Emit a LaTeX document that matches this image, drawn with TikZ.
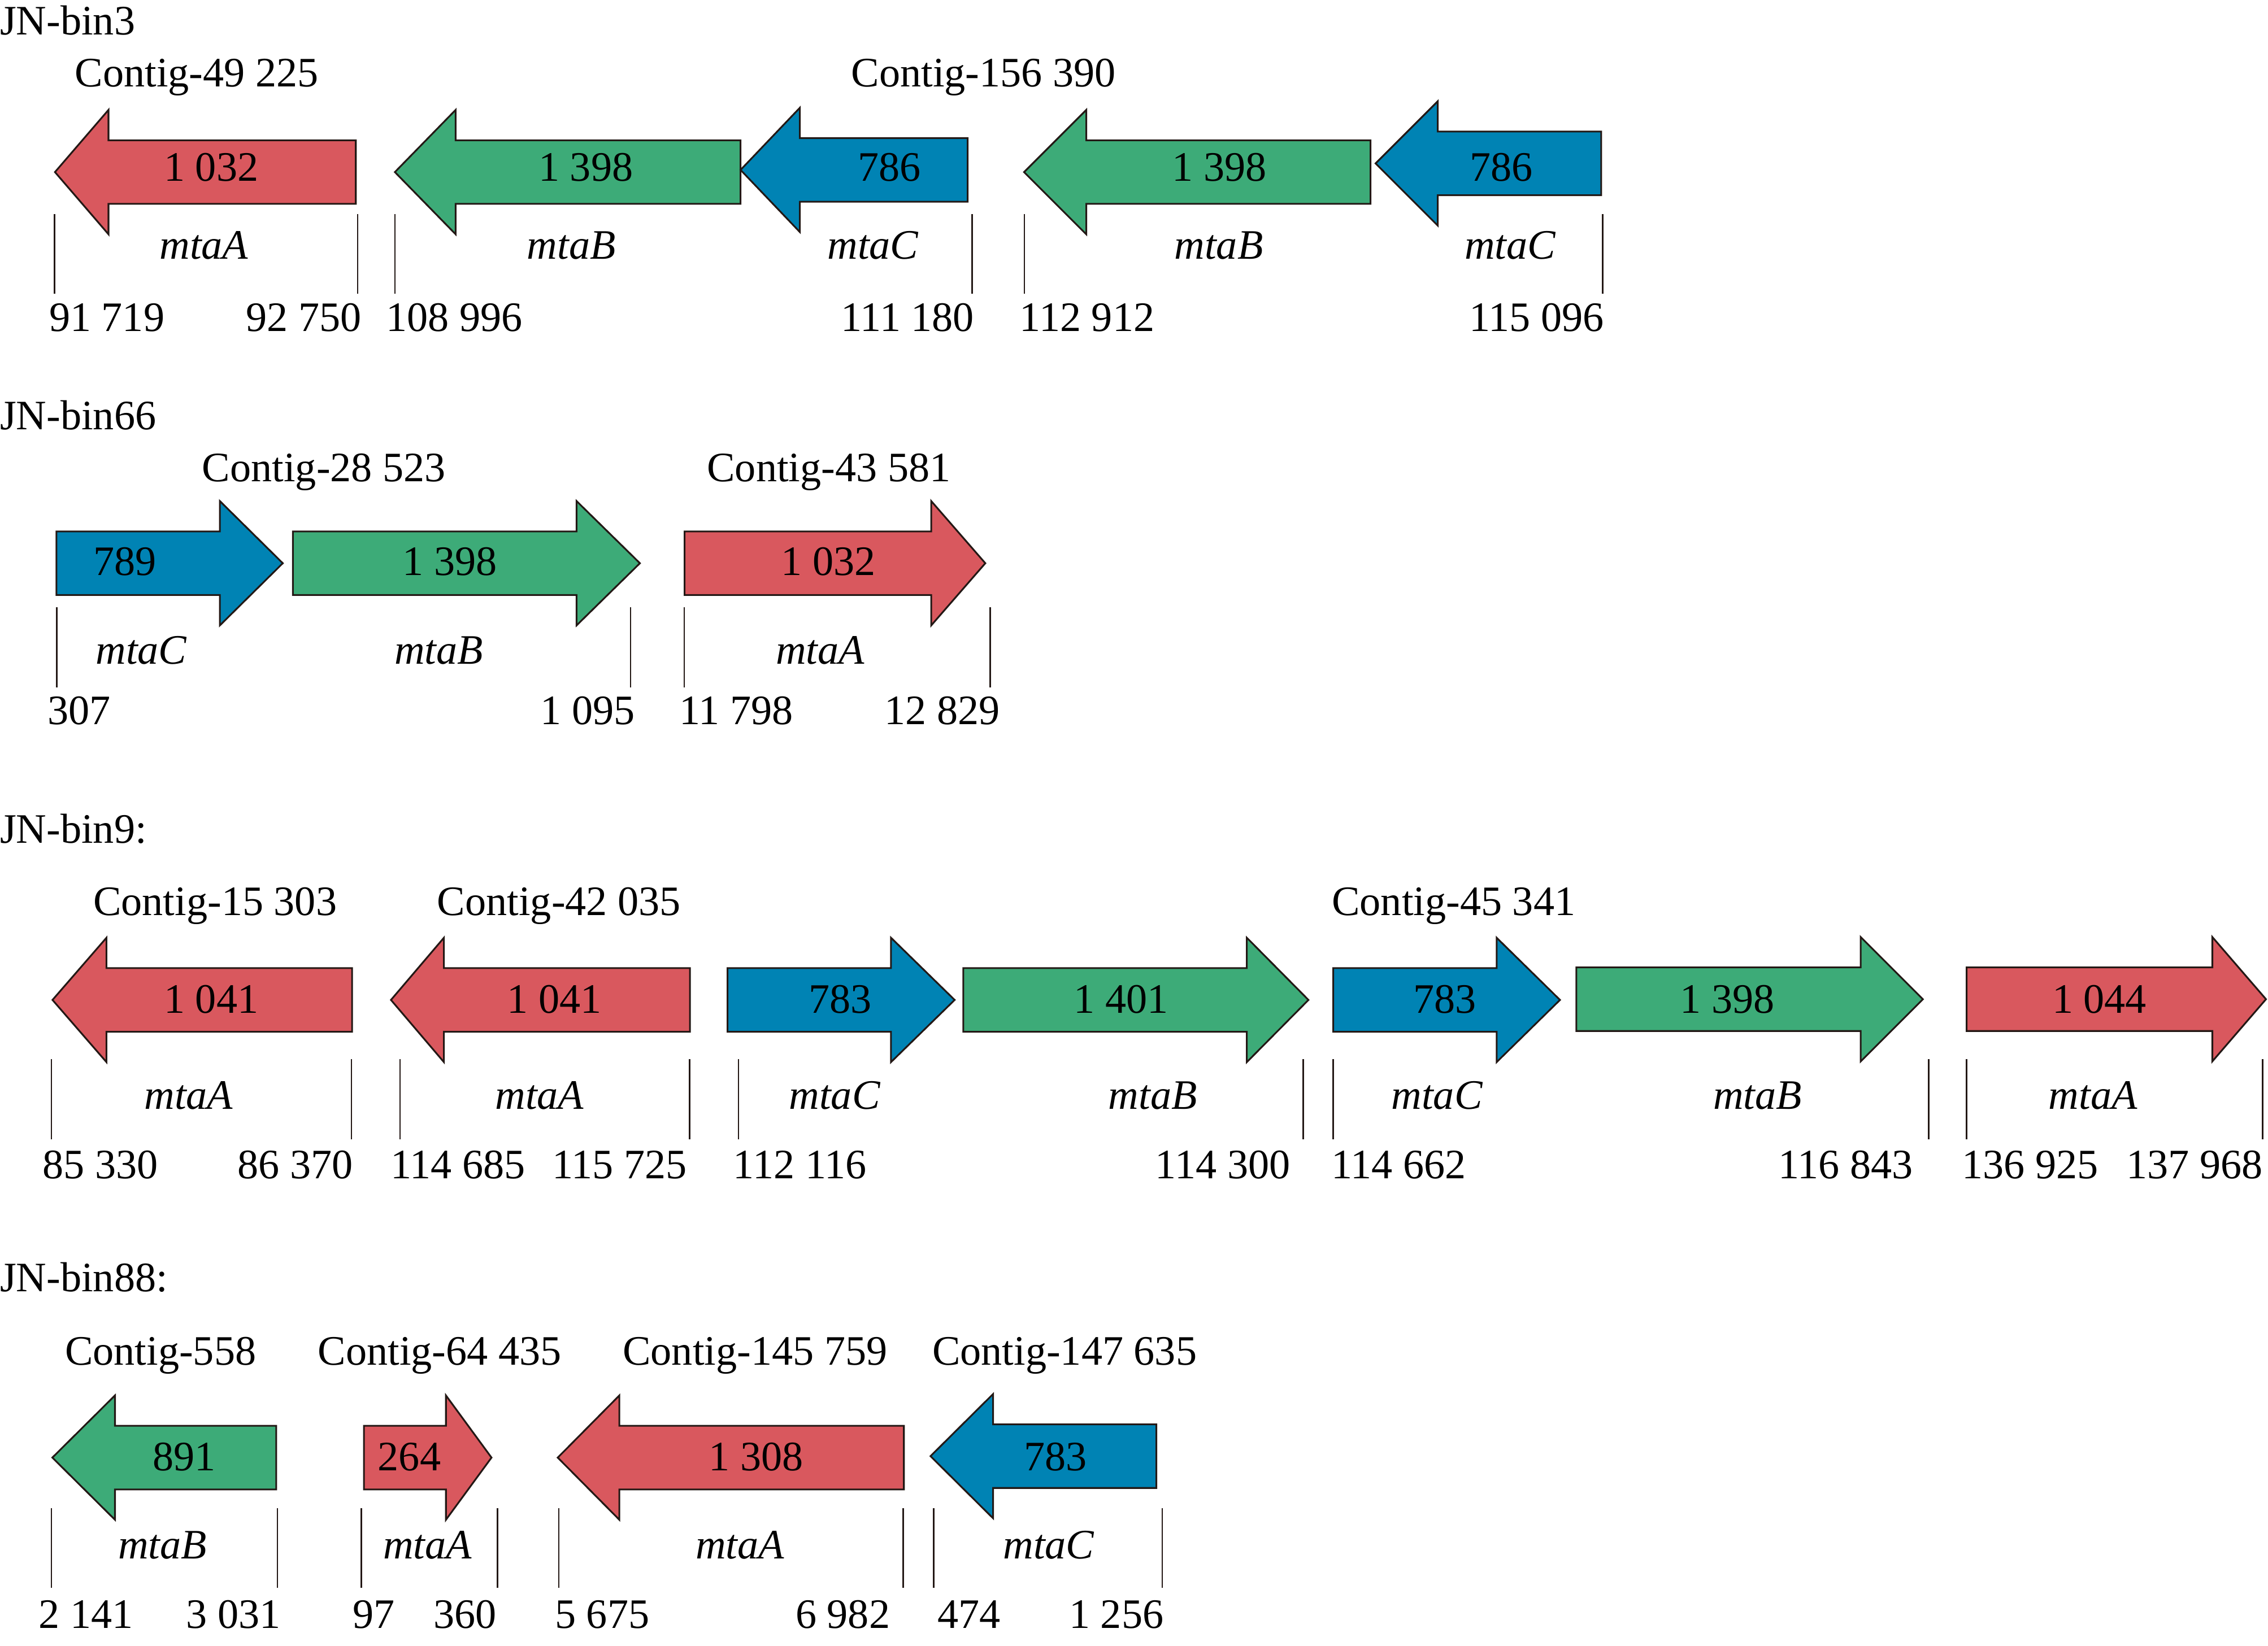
\documentclass[tikz,border=0pt]{standalone}
\usepackage{fontspec}
\setmainfont{Liberation Serif}
\definecolor{gred}{HTML}{D9585E}
\definecolor{ggreen}{HTML}{3DAB78}
\definecolor{gblue}{HTML}{0083B4}
\definecolor{outl}{HTML}{231815}
\newcounter{nd}
\tikzset{
  gene/.style={draw=outl, line width=1.2pt, line join=miter},
  tickline/.style={draw=outl, line width=1pt},
  txt/.style={inner sep=0pt, outer sep=0pt, text=black, font=\fontsize{29}{34}\selectfont},
  itxt/.style={txt, font=\fontsize{29}{34}\selectfont\itshape}
}
% left-pointing gene: tip x, head-back x, body-right x, centre y, colour
\newcommand\genL[5]{\filldraw[gene, fill=#5] (#1,#4) -- (#2,#4-43) -- (#2,#4-22) -- (#3,#4-22) -- (#3,#4+22) -- (#2,#4+22) -- (#2,#4+43) -- cycle;}
% right-pointing gene: body-left x, head-back x, tip x, centre y, colour
\newcommand\genR[5]{\filldraw[gene, fill=#5] (#3,#4) -- (#2,#4-43) -- (#2,#4-22) -- (#1,#4-22) -- (#1,#4+22) -- (#2,#4+22) -- (#2,#4+43) -- cycle;}
\newcommand\tC[3]{\stepcounter{nd}\node[txt, anchor=base] (t\arabic{nd}) at (#1,#2) {#3};}
\newcommand\tW[3]{\stepcounter{nd}\node[txt, anchor=base west] (t\arabic{nd}) at (#1,#2) {#3};}
\newcommand\tE[3]{\stepcounter{nd}\node[txt, anchor=base east] (t\arabic{nd}) at (#1,#2) {#3};}
\newcommand\tI[3]{\stepcounter{nd}\node[itxt, anchor=base] (t\arabic{nd}) at (#1,#2) {#3};}
\newcommand\tk[3]{\draw[tickline] (#1,#2) -- (#1,#3);}
\begin{document}
\begin{tikzpicture}[x=1pt, y=-1pt]
\useasboundingbox (0,0) rectangle (1568,1138);
\fill[white] (0,0) rectangle (1568,1138);

% ---------------- Row 1: JN-bin3 ----------------
\tW{0}{24}{JN-bin3}
\tC{136}{60}{Contig-49 225}
\tC{680}{60}{Contig-156 390}
\genL{38}{75}{246}{119}{gred}
\genL{273}{315}{512}{119}{ggreen}
\genL{512}{553}{669}{117.5}{gblue}
\genL{708}{751}{947.5}{119}{ggreen}
\genL{951}{994}{1107}{113}{gblue}
\tC{146}{125}{1 032}
\tC{405}{125}{1 398}
\tC{615}{125}{786}
\tC{843}{125}{1 398}
\tC{1038}{125}{786}
\tI{141}{179}{mtaA}
\tI{395}{179}{mtaB}
\tI{603.5}{179}{mtaC}
\tI{842.6}{179}{mtaB}
\tI{1044}{179}{mtaC}
\tk{37.7}{148}{203}
\tk{247.3}{148}{203}
\tk{273}{148}{203}
\tk{672}{148}{203}
\tk{708.2}{148}{203}
\tk{1108}{148}{203}
\tW{34}{229}{91 719}
\tE{250}{229}{92 750}
\tW{267}{229}{108 996}
\tE{673.5}{229}{111 180}
\tW{705}{229}{112 912}
\tE{1109}{229}{115 096}

% ---------------- Row 2: JN-bin66 ----------------
\tW{0}{297}{JN-bin66}
\tC{224}{333}{Contig-28 523}
\tC{573}{333}{Contig-43 581}
\genR{39}{152}{195.5}{389.5}{gblue}
\genR{202.5}{398.6}{442.4}{389.5}{ggreen}
\genR{473.3}{643.8}{681.2}{389.5}{gred}
\tC{86.3}{398}{789}
\tC{311}{398}{1 398}
\tC{572.7}{398}{1 032}
\tI{97.6}{459}{mtaC}
\tI{303.4}{459}{mtaB}
\tI{567}{459}{mtaA}
\tk{39.2}{420}{475.5}
\tk{436}{420}{475.5}
\tk{473}{420}{475.5}
\tk{684.6}{420}{475.5}
\tW{33}{501}{307}
\tE{439}{501}{1 095}
\tW{469.7}{501}{11 798}
\tE{691.3}{501}{12 829}

% ---------------- Row 3: JN-bin9 ----------------
\tW{0}{583}{JN-bin9:}
\tC{148.7}{633}{Contig-15 303}
\tC{386.5}{633}{Contig-42 035}
\tC{1005}{633}{Contig-45 341}
\genL{36.3}{73.6}{243.4}{691.5}{gred}
\genL{270.3}{306.9}{477}{691.5}{gred}
\genR{503}{616}{660}{691.5}{gblue}
\genR{666}{862}{904.6}{691.5}{ggreen}
\genR{921.7}{1034.7}{1078.5}{691.5}{gblue}
\genR{1089.8}{1286.4}{1329.4}{691}{ggreen}
\genR{1359.6}{1529.5}{1566.6}{691}{gred}
\tC{146}{700.7}{1 041}
\tC{383.3}{700.7}{1 041}
\tC{581}{700.7}{783}
\tC{775}{700.7}{1 401}
\tC{999}{700.7}{783}
\tC{1194.3}{700.7}{1 398}
\tC{1451.4}{700.7}{1 044}
\tI{130.4}{767}{mtaA}
\tI{373}{767}{mtaA}
\tI{577}{767}{mtaC}
\tI{797}{767}{mtaB}
\tI{993.4}{767}{mtaC}
\tI{1215}{767}{mtaB}
\tI{1447}{767}{mtaA}
\tk{35.6}{732.4}{788}
\tk{243}{732.4}{788}
\tk{276.6}{732.4}{788}
\tk{476.8}{732.4}{788}
\tk{510.6}{732.4}{788}
\tk{901}{732.4}{788}
\tk{921.7}{732.4}{788}
\tk{1333.4}{732.4}{788}
\tk{1359.6}{732.4}{788}
\tk{1564.3}{732.4}{788}
\tW{29.6}{815}{85 330}
\tE{244}{815}{86 370}
\tW{270}{815}{114 685}
\tE{475}{815}{115 725}
\tW{507}{815}{112 116}
\tE{892}{815}{114 300}
\tW{920.4}{815}{114 662}
\tE{1322.6}{815}{116 843}
\tW{1356.5}{815}{136 925}
\tE{1564.3}{815}{137 968}

% ---------------- Row 4: JN-bin88 ----------------
\tW{0}{893}{JN-bin88:}
\tC{111}{944}{Contig-558}
\tC{304}{944}{Contig-64 435}
\tC{522}{944}{Contig-145 759}
\tC{736}{944}{Contig-147 635}
\genL{36.2}{79.5}{191}{1008}{ggreen}
\genR{251.6}{308.3}{339.8}{1008}{gred}
\genL{385.6}{428.2}{624.9}{1008}{gred}
\genL{643.3}{686.6}{799.5}{1007}{gblue}
\tC{127.3}{1017}{891}
\tC{283}{1017}{264}
\tC{522.8}{1017}{1 308}
\tC{729.8}{1017}{783}
\tI{112.4}{1078}{mtaB}
\tI{295.5}{1078}{mtaA}
\tI{511.6}{1078}{mtaA}
\tI{725}{1078}{mtaC}
\tk{35.6}{1043}{1098}
\tk{191.8}{1043}{1098}
\tk{249.9}{1043}{1098}
\tk{343.9}{1043}{1098}
\tk{386.4}{1043}{1098}
\tk{624.4}{1043}{1098}
\tk{645.5}{1043}{1098}
\tk{803.6}{1043}{1098}
\tW{26.9}{1126}{2 141}
\tE{194}{1126}{3 031}
\tW{243.9}{1126}{97}
\tE{343.4}{1126}{360}
\tW{383.7}{1126}{5 675}
\tE{615.3}{1126}{6 982}
\tW{648.2}{1126}{474}
\tE{804.4}{1126}{1 256}
\end{tikzpicture}
\end{document}
